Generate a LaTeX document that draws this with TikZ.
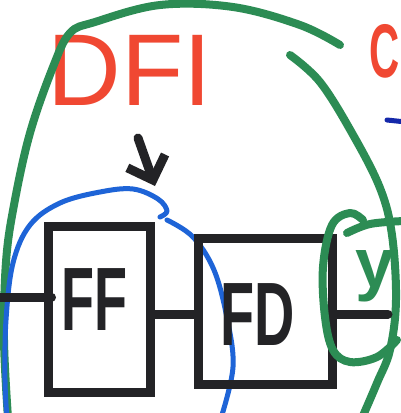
\documentclass[tikz,border=0pt]{standalone}
\usepackage{fontspec}
\usepackage{graphicx}
\newfontfamily\hand{Liberation Sans}
\usetikzlibrary{arrows.meta}
\definecolor{mgreen}{RGB}{44,140,84}
\definecolor{mred}{RGB}{240,72,50}
\definecolor{mblue}{RGB}{30,100,215}
\definecolor{mdblue}{RGB}{20,40,170}
\definecolor{mblack}{RGB}{35,35,38}
\begin{document}
\begin{tikzpicture}[x=1pt,y=-1pt,
  pen/.style={line cap=round,line join=round},
  gpen/.style={pen,draw=mgreen,line width=8pt},
  bpen/.style={pen,draw=mblue,line width=5pt},
  kpen/.style={pen,draw=mblack,line width=9pt},
  boxnode/.style={draw=mblack,line width=9pt,rectangle,inner sep=0pt},
  kword/.style={text=mblack,inner sep=0pt,anchor=base,font=\hand\bfseries\fontsize{90}{90}\selectfont},
  rword/.style={text=mred,inner sep=0pt,anchor=base,font=\hand\fontsize{102}{102}\selectfont},
  gword/.style={text=mgreen,inner sep=0pt,anchor=base,font=\hand\bfseries\fontsize{70}{70}\selectfont},
]
\clip (0,0) rectangle (401,413);
\fill[white] (0,0) rectangle (401,413);

% red titles
\node[rword] (dfi) at (130,105) {DFI};
\node[rword, anchor=base west, font=\hand\bfseries\fontsize{76}{76}\selectfont] (cword) at (369,77) {\scalebox{0.55}[1]{C}};
% blue stub at right
\coordinate (bs1) at (387,120);
\coordinate (bs2) at (406,122);
\draw[pen, draw=mdblue, line width=5pt] (bs1) -- (bs2);

% big green outline
\draw[gpen] plot[smooth, tension=0.6] coordinates {(8,418) (4,340) (6,262) (14,205) (30,133) (53,67) (70,33) (95,22) (160,5) (233,7) (300,25) (340,45)};
\draw[gpen] plot[smooth, tension=0.6] coordinates {(290,55) (320,82) (352,133) (380,188) (392,235) (396,300) (390,350) (377,383) (362,418)};

% blue circle
\draw[bpen] plot[smooth, tension=0.6] coordinates {(160,217) (167,211) (158,199) (133,189) (100,192) (60,203) (30,225) (13,263) (6,320) (5,380) (7,418)};
\draw[bpen] plot[smooth, tension=0.6] coordinates {(167,220) (193,237) (214,270) (227,318) (233,367) (221,418)};

% arrow
\coordinate (arrS) at (138,138);
\coordinate (arrE) at (155,186);
\draw[kpen, -{Straight Barb[length=20pt,width=40pt]}] (arrS) -- (arrE);

% boxes
\node[boxnode, minimum width=102pt, minimum height=166pt] (ff) at (99,309) {};
\node[boxnode, minimum width=134pt, minimum height=146pt] (fd) at (265,311) {};
\node[kword] (fftext) at (94,330) {\scalebox{0.6}[1]{FF}};
\node[kword] (fdtext) at (258,345) {\scalebox{0.62}[1]{FD}};

% wires
\coordinate (inL) at (-5,297);
\coordinate (midrow) at (0,314);
\coordinate (outR) at (388,314);
\draw[kpen, shorten >=-8pt] (inL) -- (inL -| ff.west);
\draw[kpen] (ff.east |- midrow) -- (fd.west |- midrow);
\draw[kpen] (fd.east |- outR) -- (outR);

% small green loop and y
\draw[gpen] plot[smooth, tension=0.6] coordinates {(363,220) (350,213) (332,225) (323,267) (325,317) (333,350) (350,362) (377,357) (397,340)};
\draw[gpen] plot[smooth, tension=0.6] coordinates {(347,233) (370,224) (404,221)};
\node[gword] (yword) at (375,287) {y};
\end{tikzpicture}
\end{document}
